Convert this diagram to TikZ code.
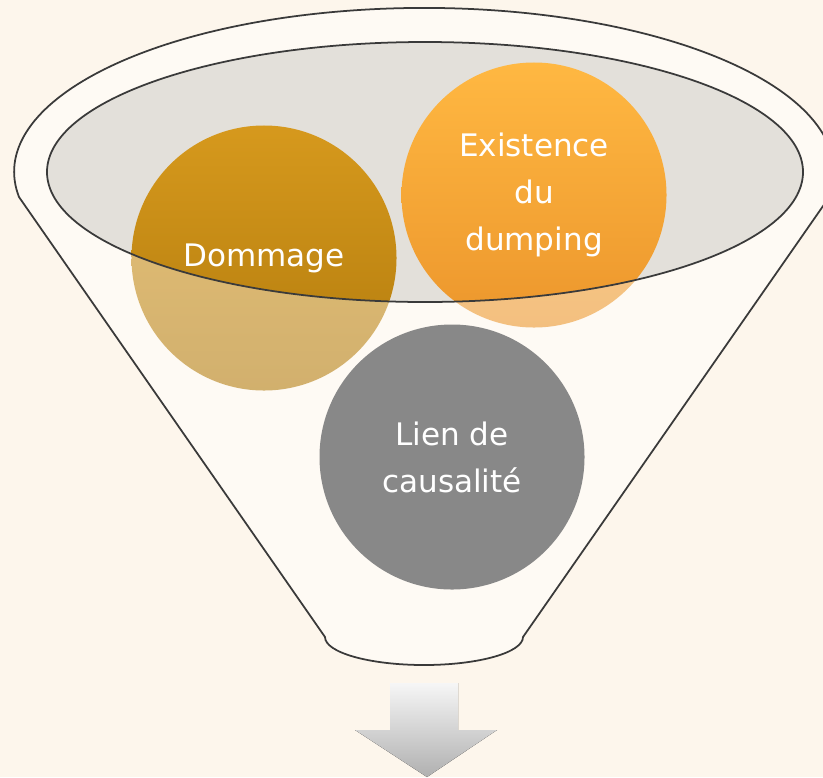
\documentclass[tikz,border=0pt]{standalone}
\usepackage{fontspec}
\newfontfamily\bubblefont{DejaVu Sans}
\usepackage{tikz}
\usetikzlibrary{calc}
\definecolor{paper}{HTML}{FDF6EC}
\definecolor{funnelbody}{HTML}{FEFAF4}
\definecolor{rimgrey}{HTML}{E3E0DA}
\definecolor{edgegrey}{HTML}{3A3A3A}
\tikzset{%
	bubble/.style={
		circle,
		draw=none,
		inner sep=0pt,
		minimum size=7.95cm,
		text=white,
		align=center,
		font=\bubblefont\fontsize{26.5}{40}\selectfont
	}
}
\tikzset{outline/.style={draw=edgegrey, line width=1.5pt}}
% funnel contour, in pixel units
\def\funnelpath{(19,197) arc[start angle=171.2, end angle=368.8, x radius=410, y radius=164]
	-- (523,637) arc[start angle=0, end angle=180, x radius=99, y radius=28] -- cycle}
\def\rimpath{(425,172) ellipse[x radius=378, y radius=130]}

\begin{document}
\begin{tikzpicture}[x=0.03cm, y=-0.03cm]
		% page and frame
		\clip (0,0) rectangle (823,777);
		\fill[paper] (0,0) rectangle (823,777);

		% funnel body and its mouth
		\fill[funnelbody] \funnelpath;
		\fill[rimgrey] \rimpath;

		% the two upper bubbles sit in the mouth
		\node[bubble, top color={rgb,255:red,214;green,153;blue,29}, bottom color={rgb,255:red,178;green,123;blue,13}] (dommage) at (264,258) {Dommage};
		\node[bubble, top color={rgb,255:red,255;green,184;blue,66}, bottom color={rgb,255:red,236;green,150;blue,44}] (existence) at (534,195) {Existence\\du\\dumping};

		% front wall of the funnel washes out what is below the mouth
		\fill[funnelbody, opacity=0.42, even odd rule] \funnelpath \rimpath;

		\node[bubble, fill={rgb,255:red,136;green,136;blue,136}] (lien) at (452,457) {Lien de\\causalit\'e};

		\draw[outline] \funnelpath;
		\draw[outline] \rimpath;

		% arrow out of the funnel
		\fill[top color={rgb,255:red,246;green,246;blue,246}, bottom color={rgb,255:red,176;green,176;blue,176}]
			(390,683) -- (458,683) -- (458,730) -- (497,730) -- (427,777) -- (355,730) -- (390,730) -- cycle;
	\end{tikzpicture}
\end{document}
